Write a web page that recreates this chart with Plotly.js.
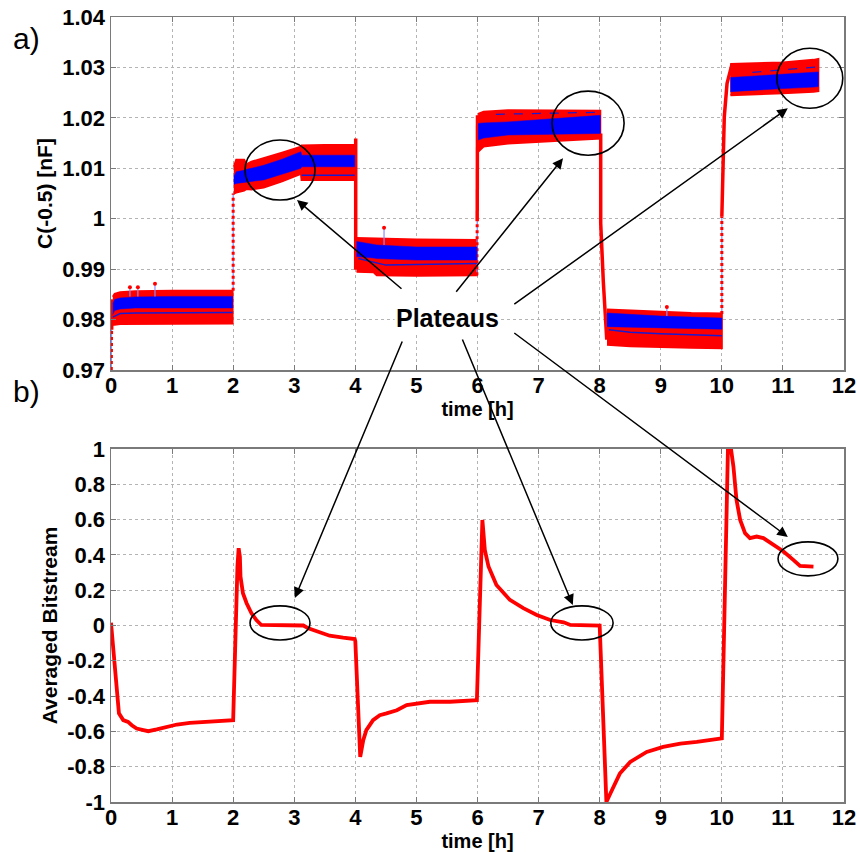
<!DOCTYPE html>
<html>
<head>
<meta charset="utf-8">
<script src="https://cdn.plot.ly/plotly-3.0.1.min.js"></script>
<style>
  html, body { margin: 0; padding: 0; background: #ffffff; }
  #chart { width: 860px; height: 852px; }
</style>
</head>
<body>
<div id="chart"></div>
<script>
// ---- axis ticks ----
const hourTicks = [0, 1, 2, 3, 4, 5, 6, 7, 8, 9, 10, 11, 12];
const capTickVals = [0.97, 0.98, 0.99, 1.00, 1.01, 1.02, 1.03, 1.04];
const capTickText = ['0.97', '0.98', '0.99', '1', '1.01', '1.02', '1.03', '1.04'];
const bitTickVals = [-1, -0.8, -0.6, -0.4, -0.2, 0, 0.2, 0.4, 0.6, 0.8, 1];
const bitTickText = ['-1', '-0.8', '-0.6', '-0.4', '-0.2', '0', '0.2', '0.4', '0.6', '0.8', '1'];

// ---- a) capacitance C(-0.5): raw samples (red) and filtered samples (blue), per plateau ----
const p1Time      = [0.03, 0.06, 0.15, 0.4, 1.0, 1.5, 1.99];
const p1RedHigh   = [0.9845, 0.9851, 0.9854, 0.9856, 0.9857, 0.9857, 0.9857];
const p1RedLow    = [0.9790, 0.9790, 0.9791, 0.9791, 0.9792, 0.9792, 0.9792];
const p1BlueHigh  = [0.9832, 0.9840, 0.9843, 0.9845, 0.9846, 0.9846, 0.9846];
const p1BlueLow   = [0.9810, 0.9818, 0.9821, 0.9823, 0.9823, 0.9823, 0.9823];

const p2Time      = [2.01, 2.05, 2.18, 2.22, 2.3, 2.5, 2.8, 3.11, 3.12, 3.5, 3.99];
const p2RedHigh   = [1.0103, 1.0117, 1.0117, 1.0108, 1.0113, 1.0120, 1.0131, 1.0143, 1.0145, 1.0146, 1.0146];
const p2RedLow    = [1.0050, 1.0052, 1.0056, 1.0059, 1.0058, 1.0062, 1.0074, 1.0089, 1.0077, 1.0077, 1.0077];
const p2BlueHigh  = [1.0083, 1.0093, 1.0096, 1.0098, 1.0100, 1.0106, 1.0118, 1.0133, 1.0126, 1.0126, 1.0126];
const p2BlueLow   = [1.0068, 1.0070, 1.0072, 1.0072, 1.0074, 1.0077, 1.0088, 1.0100, 1.0103, 1.0103, 1.0103];

const p3Time      = [4.02, 4.3, 4.35, 5.0, 5.99];
const p3RedHigh   = [0.9962, 0.9961, 0.9960, 0.9959, 0.9958];
const p3RedLow    = [0.9895, 0.9894, 0.9888, 0.9887, 0.9888];
const p3BlueHigh  = [0.9955, 0.9950, 0.9948, 0.9944, 0.9944];
const p3BlueLow   = [0.9925, 0.9922, 0.9921, 0.9918, 0.9918];

const p4Time      = [6.01, 6.1, 6.5, 7.0, 7.5, 8.01];
const p4RedHigh   = [1.0208, 1.0212, 1.0215, 1.0215, 1.0215, 1.0214];
const p4RedLow    = [1.0133, 1.0143, 1.0149, 1.0153, 1.0156, 1.0159];
const p4BlueHigh  = [1.0189, 1.0190, 1.0192, 1.0196, 1.0200, 1.0205];
const p4BlueLow   = [1.0156, 1.0160, 1.0166, 1.0167, 1.0168, 1.0169];

const p5Time      = [8.12, 8.5, 9.0, 9.5, 10.0];
const p5RedHigh   = [0.9820, 0.9818, 0.9815, 0.9813, 0.9812];
const p5RedLow    = [0.9750, 0.9747, 0.9745, 0.9744, 0.9743];
const p5BlueHigh  = [0.9813, 0.9810, 0.9807, 0.9805, 0.9803];
const p5BlueLow   = [0.9786, 0.9784, 0.9783, 0.9782, 0.9781];

const p6Time      = [10.14, 10.5, 11.0, 11.5, 11.58];
const p6RedHigh   = [1.0307, 1.0308, 1.0310, 1.0315, 1.0317];
const p6RedLow    = [1.0245, 1.0247, 1.0249, 1.0252, 1.0253];
const p6BlueHigh  = [1.0280, 1.0283, 1.0286, 1.0290, 1.0291];
const p6BlueLow   = [1.0252, 1.0255, 1.0258, 1.0261, 1.0262];

// thin dark-blue traces inside the bands (null separates plateaus)
const meanTime  = [0.03, 0.15, 0.4, 1.99, null, 3.12, 3.99, null, 4.05, 4.5, 5.99, null, 8.15, 8.5, 9.0, 10.0];
const meanValue = [0.9805, 0.9812, 0.9813, 0.9814, null, 1.0086, 1.0086, null, 0.9921, 0.9908, 0.9911, null, 0.9780, 0.9775, 0.9772, 0.9768];
const ridgeTime  = [6.3, 7.5, 7.95, null, 10.5, 11.58];
const ridgeValue = [1.0207, 1.0210, 1.0211, null, 1.0290, 1.0301];

// steps between plateaus: dense parts and sparse parts
const stepDenseTime  = [0.01, 0.02, 0.03, null, 4.006, 4.006, null, 5.995, 6.0, null, 8.017, 8.017, 8.06, 8.088, 8.116, null, 10.0, 10.016, 10.04, 10.085, 10.17];
const stepDenseValue = [0.978, 0.9825, 0.984, null, 1.0159, 0.9899, null, 0.9995, 1.0205, null, 1.0169, 0.9991, 0.9875, 0.9826, 0.9760, null, 1.0004, 1.007, 1.0202, 1.0268, 1.0308];
const stepSparseTime  = [0.005, 0.01, null, 2.0, 2.0, null, 5.99, 5.995, null, 10.0, 10.0];
const stepSparseValue = [0.9700, 0.978, null, 0.9857, 1.0050, null, 0.9888, 0.9995, null, 0.9811, 1.0004];

// isolated samples above the bands
const spikeTime  = [0.31, 0.44, 0.72, 4.47, 9.10];
const spikeBase  = [0.9846, 0.9846, 0.9846, 0.9948, 0.9807];
const spikeValue = [0.9864, 0.9864, 0.9871, 0.9982, 0.9825];

// ---- b) averaged bitstream ----
const bitTime = [0, 0.065, 0.10, 0.13, 0.2, 0.28, 0.34, 0.42, 0.53, 0.61, 0.75, 0.91, 1.08, 1.29, 1.57, 1.79, 1.99,
  2.0, 2.07, 2.09, 2.11, 2.12, 2.16, 2.22, 2.30, 2.38, 2.46, 3.15, 3.23, 3.37, 3.58, 3.80, 3.99,
  4.0, 4.08, 4.13, 4.18, 4.29, 4.40, 4.51, 4.68, 4.84, 5.06, 5.22, 5.55, 5.99,
  6.08, 6.12, 6.18, 6.31, 6.53, 6.75, 6.97, 7.19, 7.41, 7.52, 8.0,
  8.11, 8.2, 8.33, 8.50, 8.77, 9.04, 9.32, 9.59, 10.0,
  10.1, 10.15, 10.19, 10.24, 10.30, 10.38, 10.46, 10.57, 10.68, 10.84, 11.01, 11.17, 11.28, 11.50];
const bitValue = [0.016, -0.234, -0.423, -0.498, -0.536, -0.546, -0.565, -0.584, -0.593, -0.599, -0.589, -0.574, -0.561, -0.552, -0.546, -0.540, -0.536,
  -0.536, 0.334, 0.438, 0.39, 0.277, 0.183, 0.126, 0.069, 0.031, 0.003, 0.0, -0.016, -0.035, -0.058, -0.069, -0.077,
  -0.09, -0.745, -0.650, -0.593, -0.536, -0.508, -0.498, -0.480, -0.451, -0.438, -0.432, -0.432, -0.423,
  0.598, 0.428, 0.334, 0.230, 0.145, 0.098, 0.060, 0.031, 0.018, 0.003, 0.0,
  -1.0, -0.933, -0.839, -0.773, -0.716, -0.688, -0.669, -0.660, -0.640,
  1.0, 1.0, 0.90, 0.712, 0.598, 0.523, 0.495, 0.504, 0.495, 0.457, 0.419, 0.372, 0.338, 0.334];

// ---- build traces ----
const RED = '#ff0000';
const BLUE = '#0000ff';
const FONT = 'Arial, "Liberation Sans", sans-serif';

function band(time, high, low, color, edge) {
  return {
    x: time.concat(time.slice().reverse()),
    y: high.concat(low.slice().reverse()),
    xaxis: 'x', yaxis: 'y',
    type: 'scatter', mode: 'lines', fill: 'toself',
    fillcolor: color, line: { color: color, width: edge },
    hoverinfo: 'skip', showlegend: false
  };
}

const plateaus = [
  [p1Time, p1RedHigh, p1RedLow, p1BlueHigh, p1BlueLow],
  [p2Time, p2RedHigh, p2RedLow, p2BlueHigh, p2BlueLow],
  [p3Time, p3RedHigh, p3RedLow, p3BlueHigh, p3BlueLow],
  [p4Time, p4RedHigh, p4RedLow, p4BlueHigh, p4BlueLow],
  [p5Time, p5RedHigh, p5RedLow, p5BlueHigh, p5BlueLow],
  [p6Time, p6RedHigh, p6RedLow, p6BlueHigh, p6BlueLow]
];

const traces = [];
plateaus.forEach(p => traces.push(band(p[0], p[1], p[2], RED, 2)));

// sparse steps: light blue connecting line with red dots on it
traces.push({ x: stepSparseTime, y: stepSparseValue, xaxis: 'x', yaxis: 'y', type: 'scatter', mode: 'lines',
  line: { color: '#8c8cff', width: 1.2 }, hoverinfo: 'skip', showlegend: false });
traces.push({ x: stepSparseTime, y: stepSparseValue, xaxis: 'x', yaxis: 'y', type: 'scatter', mode: 'lines',
  line: { color: RED, width: 3, dash: 'dot' }, hoverinfo: 'skip', showlegend: false });
traces.push({ x: stepDenseTime, y: stepDenseValue, xaxis: 'x', yaxis: 'y', type: 'scatter', mode: 'lines',
  line: { color: RED, width: 3.5 }, hoverinfo: 'skip', showlegend: false });

plateaus.forEach(p => traces.push(band(p[0], p[3], p[4], BLUE, 0.5)));

traces.push({ x: meanTime, y: meanValue, xaxis: 'x', yaxis: 'y', type: 'scatter', mode: 'lines',
  line: { color: '#1a1ad0', width: 1.5 }, hoverinfo: 'skip', showlegend: false });
traces.push({ x: ridgeTime, y: ridgeValue, xaxis: 'x', yaxis: 'y', type: 'scatter', mode: 'lines',
  line: { color: '#1a1ad0', width: 1.3, dash: 'dash' }, hoverinfo: 'skip', showlegend: false });

// spikes: blue stem from the band, red dot at the tip
const stemX = [], stemY = [];
spikeTime.forEach((t, i) => { stemX.push(t, t, null); stemY.push(spikeBase[i], spikeValue[i], null); });
traces.push({ x: stemX, y: stemY, xaxis: 'x', yaxis: 'y', type: 'scatter', mode: 'lines',
  line: { color: '#8c8cff', width: 1.2 }, hoverinfo: 'skip', showlegend: false });
traces.push({ x: spikeTime, y: spikeValue, xaxis: 'x', yaxis: 'y', type: 'scatter', mode: 'markers',
  marker: { color: RED, size: 4 }, hoverinfo: 'skip', showlegend: false });

// averaged bitstream
traces.push({ x: bitTime, y: bitValue, xaxis: 'x2', yaxis: 'y2', type: 'scatter', mode: 'lines',
  line: { color: RED, width: 3.8 }, hoverinfo: 'skip', showlegend: false });

// ---- axes ----
function xAxis(anchor) {
  return {
    anchor: anchor, range: [0, 12], tickvals: hourTicks, ticktext: hourTicks.map(String),
    showgrid: true, gridcolor: '#b4b4b4', griddash: 'dot', gridwidth: 1,
    zeroline: false, showline: true, mirror: 'ticks', linecolor: '#7a7a7a', linewidth: 1.5,
    ticks: 'inside', ticklen: 5, tickcolor: '#7a7a7a', tickwidth: 1,
    ticklabelstandoff: -5,
    tickfont: { family: FONT, size: 22, color: '#000000', weight: 'bold' },
    title: { text: 'time [h]', standoff: 4, font: { family: FONT, size: 20, color: '#000000', weight: 'bold' } },
    automargin: false
  };
}
function yAxis(anchor, domain, range, vals, text, label) {
  return {
    anchor: anchor, domain: domain, range: range, tickvals: vals, ticktext: text,
    showgrid: true, gridcolor: '#b4b4b4', griddash: 'dot', gridwidth: 1,
    zeroline: false, showline: true, mirror: 'ticks', linecolor: '#7a7a7a', linewidth: 1.5,
    ticks: 'inside', ticklen: 5, tickcolor: '#7a7a7a', tickwidth: 1,
    tickfont: { family: FONT, size: 22, color: '#000000', weight: 'bold' },
    title: { text: label, standoff: 4, font: { family: FONT, size: 21, color: '#000000', weight: 'bold' } },
    automargin: false
  };
}

// ---- callouts ----
const ellipse = (xr, yr, x0, x1, y0, y1) => ({
  type: 'circle', xref: xr, yref: yr, x0: x0, x1: x1, y0: y0, y1: y1,
  line: { color: '#000000', width: 1.6 }, fillcolor: 'rgba(0,0,0,0)'
});
const shapes = [
  ellipse('x', 'y', 2.194, 3.34, 1.0037, 1.0156),
  ellipse('x', 'y', 7.22, 8.40, 1.0126, 1.0253),
  ellipse('x', 'y', 10.90, 11.98, 1.0219, 1.0338),
  ellipse('x2', 'y2', 2.276, 3.258, -0.082, 0.111),
  ellipse('x2', 'y2', 7.20, 8.22, -0.082, 0.111),
  ellipse('x2', 'y2', 10.92, 11.90, 0.281, 0.474)
];

const arrow = (xr, yr, x, y, ax, ay) => ({
  xref: xr, yref: yr, x: x, y: y, ax: ax, ay: ay, text: '',
  showarrow: true, arrowhead: 2, arrowsize: 1.4, arrowwidth: 1.5, arrowcolor: '#000000', standoff: 0
});
const annotations = [
  arrow('x', 'y', 3.045, 1.0037, 106, 90),
  arrow('x', 'y', 7.40, 1.0120, -108, 135),
  arrow('x', 'y', 11.08, 1.0219, -275, 197),
  arrow('x2', 'y2', 3.01, 0.156, 108, -258),
  arrow('x2', 'y2', 7.56, 0.116, -111, -267),
  arrow('x2', 'y2', 11.08, 0.502, -275, -205),
  { xref: 'paper', yref: 'paper', x: 0.4584, y: 0.6166, xanchor: 'center', yanchor: 'middle',
    text: 'Plateaus', showarrow: false, bgcolor: '#ffffff',
    font: { family: FONT, size: 25, color: '#000000', weight: 'bold' } },
  { xref: 'paper', yref: 'paper', x: -0.1146, y: 0.9732, xanchor: 'center', yanchor: 'middle',
    text: 'a)', showarrow: false, font: { family: FONT, size: 30, color: '#000000' } },
  { xref: 'paper', yref: 'paper', x: -0.1146, y: 0.5223, xanchor: 'center', yanchor: 'middle',
    text: 'b)', showarrow: false, font: { family: FONT, size: 30, color: '#000000' } }
];

const layout = {
  width: 860, height: 852,
  margin: { l: 111, r: 16, t: 17, b: 50 },
  paper_bgcolor: '#ffffff', plot_bgcolor: '#ffffff',
  showlegend: false,
  xaxis: xAxis('y'),
  xaxis2: xAxis('y2'),
  yaxis: yAxis('x', [0.5503, 1], [0.97, 1.04], capTickVals, capTickText, 'C(-0.5) [nF]'),
  yaxis2: yAxis('x2', [0, 0.4497], [-1, 1], bitTickVals, bitTickText, 'Averaged Bitstream'),
  shapes: shapes,
  annotations: annotations
};

Plotly.newPlot('chart', traces, layout, { displayModeBar: false, staticPlot: true });
</script>
</body>
</html>
